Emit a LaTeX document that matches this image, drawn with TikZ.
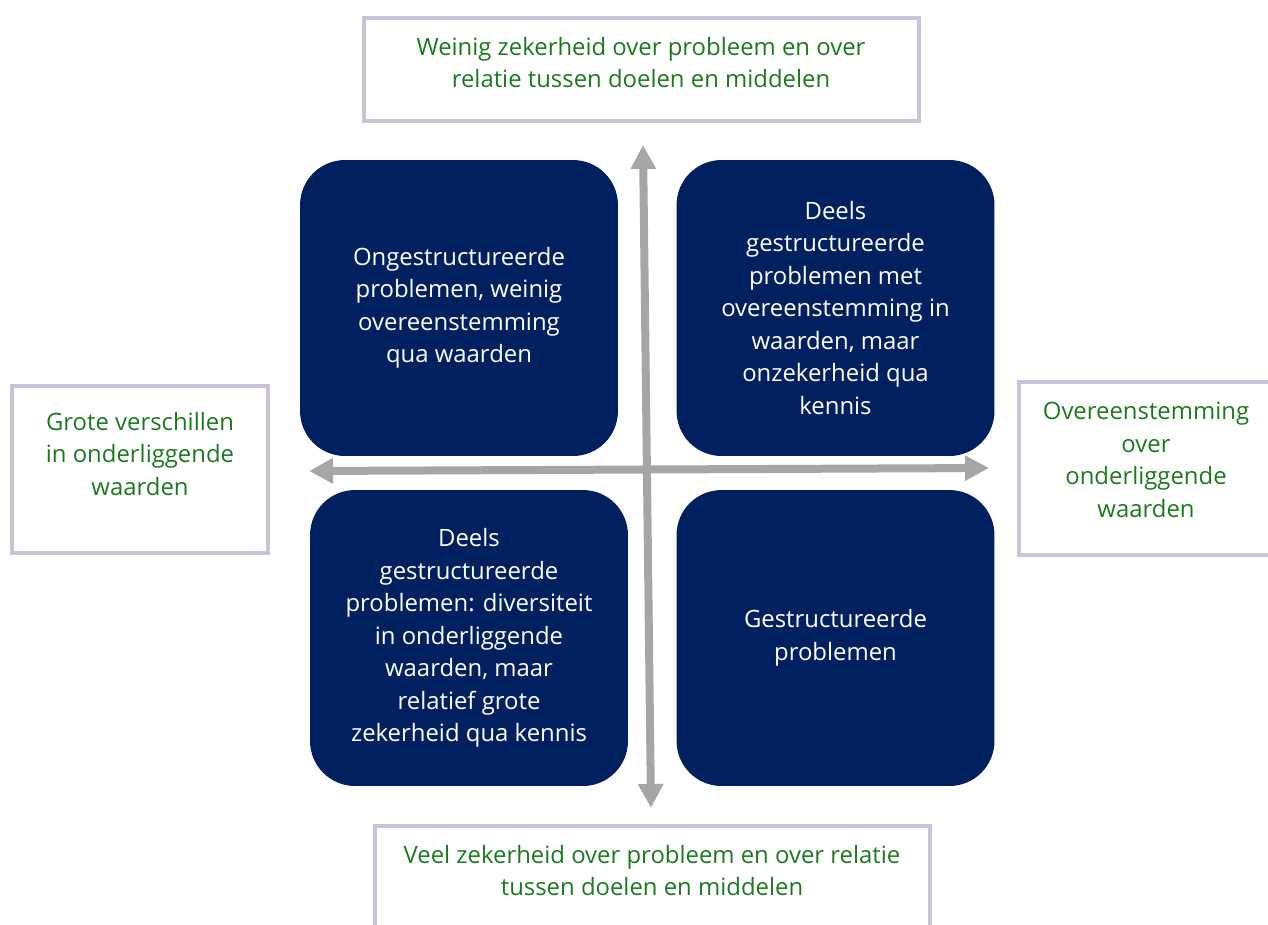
\documentclass[tikz,border=0pt]{standalone}
\usepackage{fontspec}
\setmainfont{Open Sans}
\usetikzlibrary{arrows.meta}
\definecolor{navy}{HTML}{002060}
\definecolor{lila}{HTML}{CCC1DA}
\definecolor{groen}{HTML}{1B7A1F}
\definecolor{pijlgrijs}{HTML}{A6A6A6}
\tikzset{
	kwadrant/.style={fill=navy, rounded corners=0.9cm, minimum width=6.36cm, minimum height=5.92cm, inner sep=0pt, text=white, align=center, font=\fontsize{13.6}{18.5}\selectfont},
	kader/.style={draw=lila, line width=0.08cm, inner sep=0pt},
	kadertekst/.style={text=groen, align=center, inner sep=0pt, font=\fontsize{13.6}{18.5}\selectfont},
	aspijl/.style={pijlgrijs, line width=0.16cm, {Triangle[length=0.48cm,width=0.48cm]}-{Triangle[length=0.48cm,width=0.48cm]}}
}
\begin{document}
\begin{tikzpicture}[x=0.02cm, y=-0.02cm]
		\clip (0,0) rectangle (1268,924);
		
		\node [kwadrant] (ongestr) at (459,308) {Ongestructureerde\\problemen, weinig\\overeenstemming\\qua waarden};
		\node [kwadrant] (deelsboven) at (835.5,308) {Deels\\gestructureerde\\problemen met\\overeenstemming in\\waarden, maar\\onzekerheid qua\\kennis};
		\node [kwadrant] (deelsonder) at (469,638) {Deels\\gestructureerde\\problemen: diversiteit\\in onderliggende\\waarden, maar\\relatief grote\\zekerheid qua kennis};
		\node [kwadrant] (gestr) at (835.5,638) {Gestructureerde\\problemen};
		
		\node [kader, minimum width=11.1cm, minimum height=2.06cm] (boven) at (641.5,69.5) {};
		\node [kadertekst] (boventekst) at (641,62.5) {Weinig zekerheid over probleem en over\\relatie tussen doelen en middelen};
		\node [kader, minimum width=5.12cm, minimum height=3.34cm] (links) at (140,469.5) {};
		\node [kadertekst] (linkstekst) at (140,454) {Grote verschillen\\in onderliggende\\waarden};
		\node [kader, minimum width=5.08cm, minimum height=3.46cm] (rechts) at (1146,468.5) {};
		\node [kadertekst] (rechtstekst) at (1146,460) {Overeenstemming\\over\\onderliggende\\waarden};
		\node [kader, minimum width=11.1cm, minimum height=2.06cm] (onder) at (652.5,877.5) {};
		\node [kadertekst] (ondertekst) at (652,870.5) {Veel zekerheid over probleem en over relatie\\tussen doelen en middelen};
		
		\coordinate (noord) at (643,145);
		\coordinate (zuid) at (651,808);
		\coordinate (west) at (309,471);
		\coordinate (oost) at (989,468);
		\draw [aspijl] (zuid) -- (noord);
		\draw [aspijl] (west) -- (oost);
	\end{tikzpicture}
\end{document}
